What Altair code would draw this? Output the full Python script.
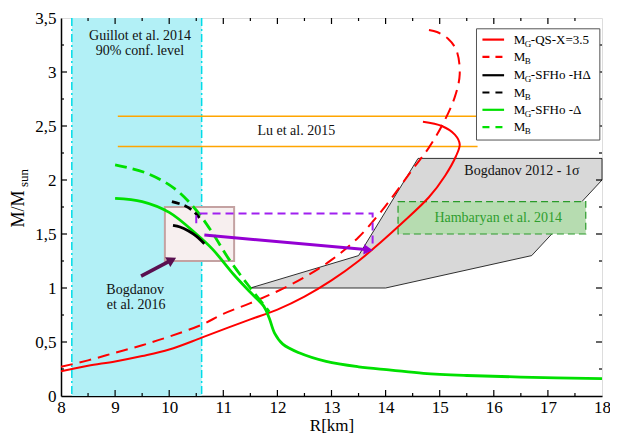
import altair as alt
import pandas as pd

FONT = "Liberation Serif"

# ---------------- data ----------------
red_g_R = [8.0, 8.5, 9.0, 9.5, 10.0, 10.6, 11.1, 11.5, 12.0, 12.5, 13.0, 13.5, 13.9, 14.3, 14.8, 15.1, 15.3, 15.37, 15.28, 15.04, 14.69]
red_g_M = [0.23, 0.28, 0.32, 0.37, 0.43, 0.54, 0.635, 0.71, 0.80, 0.92, 1.07, 1.25, 1.42, 1.60, 1.84, 2.04, 2.22, 2.33, 2.42, 2.50, 2.54]

red_b_R = [8.0, 8.5, 9.0, 9.5, 10.0, 10.6, 11.0, 11.5, 12.0, 12.5, 13.0, 13.5, 14.0, 14.5, 14.8, 15.06, 15.28, 15.37, 15.31, 15.15, 14.95, 14.69]
red_b_M = [0.27, 0.33, 0.40, 0.47, 0.55, 0.66, 0.76, 0.86, 0.97, 1.10, 1.26, 1.47, 1.76, 2.10, 2.30, 2.52, 2.77, 2.98, 3.20, 3.31, 3.37, 3.40]

blk_g_R = [10.07, 10.2, 10.35, 10.5, 10.65]
blk_g_M = [1.58, 1.565, 1.53, 1.48, 1.41]

blk_b_R = [10.05, 10.3, 10.45, 10.56]
blk_b_M = [1.80, 1.76, 1.71, 1.65]

grn_g_R = [9.0, 9.5, 10.0, 10.5, 10.8, 11.2, 11.5, 11.75, 11.85, 11.95, 12.1, 12.4, 12.9, 13.5, 14.1, 14.7, 15.5, 16.5, 18.0]
grn_g_M = [1.83, 1.80, 1.70, 1.50, 1.36, 1.12, 0.96, 0.83, 0.72, 0.58, 0.48, 0.40, 0.32, 0.27, 0.24, 0.21, 0.19, 0.175, 0.16]

grn_b_R = [9.0, 9.6, 10.1, 10.5, 10.8, 11.1, 11.5, 11.85]
grn_b_M = [2.14, 2.06, 1.92, 1.72, 1.51, 1.27, 1.00, 0.78]

guillot_R = [8.2, 10.6]
lu_M = [2.31, 2.59]
lu_R = [9.05, 15.7]

bog12_R = [11.5, 13.5, 14.6, 18.0, 18.0, 16.7, 14.0, 11.5]
bog12_M = [1.0, 1.3, 2.2, 2.2, 2.0, 1.3, 1.0, 1.0]

hamb_R = [14.23, 17.7]
hamb_M = [1.50, 1.80]

bog16_R = [9.92, 11.2]
bog16_M = [1.25, 1.75]

purple_dash_R = [10.5, 10.5, 13.76, 13.76]
purple_dash_M = [1.60, 1.69, 1.69, 1.39]

purple_arrow_R = [10.65, 13.68]
purple_arrow_M = [1.49, 1.354]

dark_arrow_R = [9.48, 10.05]
dark_arrow_M = [1.11, 1.26]

x_major = list(range(8, 19))
x_minor = [8.5 + i for i in range(10)]
y_major = [0, 0.5, 1, 1.5, 2, 2.5, 3, 3.5]
y_minor = [0.25, 0.75, 1.25, 1.75, 2.25, 2.75, 3.25]

labels_text = ["Guillot et al. 2014", "90% conf. level", "Lu et al. 2015", "Bogdanov", "et al. 2016", "Bogdanov 2012 - 1\u03c3"]
labels_R = [9.46, 9.46, 12.35, 9.37, 9.39, 16.52]
labels_M = [3.33, 3.19, 2.45, 0.985, 0.845, 2.08]

legend_box_R = [15.68, 17.96]
legend_box_M = [2.37, 3.40]
legend_line_R = [15.79, 16.19]
legend_text_R = 16.37
legend_rows_M = [3.30, 3.14, 2.97, 2.81, 2.65, 2.49]
legend_colors = ["#ff0000", "#ff0000", "#000000", "#000000", "#00e000", "#00e000"]
legend_dashed = [False, True, False, True, False, True]
legend_sub = ["G", "B", "G", "B", "G", "B"]
legend_rest = ["-QS-X=3.5", "", " -SFHo -H\u0394", "", "-SFHo -\u0394", ""]

# ---------------- chart ----------------
W, H = 541, 378
xs = alt.Scale(domain=[8, 18], nice=False, zero=False)
ys = alt.Scale(domain=[0, 3.5], nice=False, zero=False)

xaxis = alt.Axis(values=x_major, ticks=False, grid=False, title="R[km]",
                 labelFont=FONT, labelFontSize=17, labelColor="black",
                 titleFont=FONT, titleFontSize=17, titleFontWeight="normal", titleColor="black",
                 domainColor="black", domainWidth=1.5, labelPadding=3, titlePadding=2,
                 labelFlush=False)
yaxis = alt.Axis(values=y_major, ticks=False, grid=False, title=None,
                 labelExpr="replace(toString(datum.value), '.', ',')",
                 labelFont=FONT, labelFontSize=17, labelColor="black",
                 domainColor="black", domainWidth=1.5, labelPadding=5, labelFlush=False)


def X(field="R"):
    return alt.X(f"{field}:Q", scale=xs, axis=xaxis)


def Y(field="M"):
    return alt.Y(f"{field}:Q", scale=ys, axis=yaxis)


def curve(R, M, color, width, dash=None, interp="catmull-rom"):
    df = pd.DataFrame({"R": R, "M": M, "i": list(range(len(R)))})
    kw = dict(color=color, strokeWidth=width, interpolate=interp)
    if dash:
        kw["strokeDash"] = dash
    return alt.Chart(df).mark_line(**kw).encode(x=X(), y=Y(), order="i:Q")


layers = []

# Guillot band
band = pd.DataFrame({"R": [guillot_R[0]], "R2": [guillot_R[1]], "M": [0.0], "M2": [3.5]})
layers.append(alt.Chart(band).mark_rect(fill="#b2f0f6").encode(
    x=X(), x2="R2:Q", y=Y(), y2="M2:Q"))
edges = pd.DataFrame({"R": guillot_R})
layers.append(alt.Chart(edges).mark_rule(color="#00dce8", strokeWidth=1.5, strokeDash=[8, 3, 2, 3]).encode(
    x=X(), y=alt.value(0), y2=alt.value(H)))

# Lu et al. lines
lu = pd.DataFrame({"M": lu_M, "R": [lu_R[0]] * 2, "R2": [lu_R[1]] * 2})
layers.append(alt.Chart(lu).mark_rule(color="#ffa500", strokeWidth=1.5).encode(
    x=X(), x2="R2:Q", y=Y()))

# Bogdanov 2012 polygon
poly = pd.DataFrame({"R": bog12_R, "M": bog12_M, "i": list(range(len(bog12_R)))})
layers.append(alt.Chart(poly).mark_line(fill="#d8d8d8", stroke="black", strokeWidth=0.8).encode(
    x=X(), y=Y(), order="i:Q"))

# Hambaryan box
hb = pd.DataFrame({"R": [hamb_R[0]], "R2": [hamb_R[1]], "M": [hamb_M[0]], "M2": [hamb_M[1]]})
layers.append(alt.Chart(hb).mark_rect(fill="#b6dcb0", stroke="#2a9a2a", strokeWidth=1.2, strokeDash=[7, 4]).encode(
    x=X(), x2="R2:Q", y=Y(), y2="M2:Q"))

# Bogdanov 2016 box
b16 = pd.DataFrame({"R": [bog16_R[0]], "R2": [bog16_R[1]], "M": [bog16_M[0]], "M2": [bog16_M[1]]})
layers.append(alt.Chart(b16).mark_rect(fill="#f7efef", stroke="#c4a2a2", strokeWidth=2).encode(
    x=X(), x2="R2:Q", y=Y(), y2="M2:Q"))

# curves
layers.append(curve(red_g_R, red_g_M, "#ff0000", 2))
layers.append(curve(red_b_R, red_b_M, "#ff0000", 2, dash=[12, 7]))
layers.append(curve(grn_b_R, grn_b_M, "#00e000", 2.8, dash=[12, 6]))
layers.append(curve(grn_g_R, grn_g_M, "#00e000", 2.8))
layers.append(curve(blk_b_R, blk_b_M, "#000000", 2.8, dash=[8, 5]))
layers.append(curve(blk_g_R, blk_g_M, "#000000", 2.8))

# purple dashed path
layers.append(curve(purple_dash_R, purple_dash_M, "#a020f0", 2, dash=[8, 5], interp="linear"))

# arrows
layers.append(curve(purple_arrow_R, purple_arrow_M, "#9400d3", 3, interp="linear"))
layers.append(alt.Chart(pd.DataFrame({"R": [purple_arrow_R[1]], "M": [purple_arrow_M[1]]})).mark_point(
    shape="triangle-right", filled=True, color="#9400d3", size=110, angle=5, opacity=1).encode(x=X(), y=Y()))
layers.append(curve(dark_arrow_R, dark_arrow_M, "#5a1050", 3.5, interp="linear"))
layers.append(alt.Chart(pd.DataFrame({"R": [dark_arrow_R[1]], "M": [dark_arrow_M[1]]})).mark_point(
    shape="triangle-right", filled=True, color="#5a1050", size=120, angle=332, opacity=1).encode(x=X(), y=Y()))

# text annotations
txt = pd.DataFrame({"R": labels_R, "M": labels_M, "t": labels_text})
layers.append(alt.Chart(txt).mark_text(font=FONT, fontSize=14, color="#111111", align="center", baseline="middle").encode(
    x=X(), y=Y(), text="t:N"))
layers.append(alt.Chart(pd.DataFrame({"R": [16.08], "M": [1.65], "t": ["Hambaryan et al. 2014"]})).mark_text(
    font=FONT, fontSize=14, color="#2e9e2e", align="center", baseline="middle").encode(x=X(), y=Y(), text="t:N"))

# axis title for y (with subscript)
layers.append(alt.Chart(pd.DataFrame({"t": ["M/M"]})).mark_text(
    font=FONT, fontSize=18, color="black", angle=270, align="center", baseline="middle").encode(
    x=alt.value(-42), y=alt.value(191), text="t:N"))
layers.append(alt.Chart(pd.DataFrame({"t": ["sun"]})).mark_text(
    font=FONT, fontSize=13, color="black", angle=270, align="center", baseline="middle").encode(
    x=alt.value(-37), y=alt.value(160), text="t:N"))

# inward ticks
xt = pd.DataFrame({"R": x_major[1:-1]})
xtm = pd.DataFrame({"R": x_minor})
yt = pd.DataFrame({"M": y_major[1:-1]})
ytm = pd.DataFrame({"M": y_minor})
tk = dict(color="black", strokeWidth=1.2)
layers.append(alt.Chart(xt).mark_rule(**tk).encode(x=X(), y=alt.value(H), y2=alt.value(H - 6)))
layers.append(alt.Chart(xt).mark_rule(**tk).encode(x=X(), y=alt.value(0), y2=alt.value(6)))
layers.append(alt.Chart(xtm).mark_rule(**tk).encode(x=X(), y=alt.value(H), y2=alt.value(H - 3)))
layers.append(alt.Chart(xtm).mark_rule(**tk).encode(x=X(), y=alt.value(0), y2=alt.value(3)))
layers.append(alt.Chart(yt).mark_rule(**tk).encode(y=Y(), x=alt.value(0), x2=alt.value(6)))
layers.append(alt.Chart(yt).mark_rule(**tk).encode(y=Y(), x=alt.value(W), x2=alt.value(W - 6)))
layers.append(alt.Chart(ytm).mark_rule(**tk).encode(y=Y(), x=alt.value(0), x2=alt.value(3)))
layers.append(alt.Chart(ytm).mark_rule(**tk).encode(y=Y(), x=alt.value(W), x2=alt.value(W - 3)))

# legend
lb = pd.DataFrame({"R": [legend_box_R[0]], "R2": [legend_box_R[1]], "M": [legend_box_M[0]], "M2": [legend_box_M[1]]})
layers.append(alt.Chart(lb).mark_rect(fill="white", stroke="#555555", strokeWidth=1).encode(
    x=X(), x2="R2:Q", y=Y(), y2="M2:Q"))
for k in range(6):
    d = pd.DataFrame({"R": [legend_line_R[0]], "R2": [legend_line_R[1]], "M": [legend_rows_M[k]]})
    kw = dict(color=legend_colors[k], strokeWidth=2.2)
    if legend_dashed[k]:
        kw["strokeDash"] = [7, 6]
    layers.append(alt.Chart(d).mark_rule(**kw).encode(x=X(), x2="R2:Q", y=Y()))
leg = pd.DataFrame({"R": [legend_text_R] * 6, "M": legend_rows_M, "m": ["M"] * 6,
                    "s": legend_sub, "r": legend_rest})
layers.append(alt.Chart(leg).mark_text(font=FONT, fontSize=13, color="black", align="left", baseline="middle").encode(
    x=X(), y=Y(), text="m:N"))
layers.append(alt.Chart(leg).mark_text(font=FONT, fontSize=9, color="black", align="left", baseline="middle", dx=11, dy=4).encode(
    x=X(), y=Y(), text="s:N"))
layers.append(alt.Chart(leg).mark_text(font=FONT, fontSize=13, color="black", align="left", baseline="middle", dx=17).encode(
    x=X(), y=Y(), text="r:N"))

chart = alt.layer(*layers).properties(
    width=W, height=H,
    autosize=alt.AutoSizeParams(type="none"),
    padding={"left": 53, "top": 10, "right": 8, "bottom": 37},
).configure_view(stroke="black", strokeWidth=1.5).configure(background="white")

chart.save("out.html", embed_options={"renderer": "svg", "actions": False})
